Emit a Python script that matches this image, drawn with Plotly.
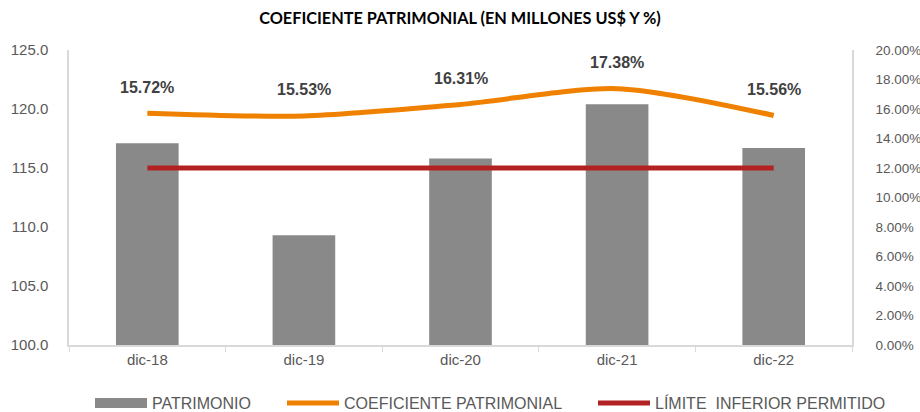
import plotly.graph_objects as go

categories = ["dic-18", "dic-19", "dic-20", "dic-21", "dic-22"]
patrimonio = [117.1, 109.3, 115.8, 120.4, 116.7]
coeficiente = [0.1572, 0.1553, 0.1631, 0.1738, 0.1556]
limite = [0.12, 0.12, 0.12, 0.12, 0.12]
coef_labels = ["15.72%", "15.53%", "16.31%", "17.38%", "15.56%"]

left_ticks = [100, 105, 110, 115, 120, 125]
right_ticks = [0, 0.02, 0.04, 0.06, 0.08, 0.10, 0.12, 0.14, 0.16, 0.18, 0.20]

legend_names = ["PATRIMONIO", "COEFICIENTE PATRIMONIAL", "LÍMITE\u00a0 INFERIOR PERMITIDO"]

font_family = "Liberation Sans, Arial, sans-serif"
tick_color = "#595959"
axis_color = "#d9d9d9"
bar_color = "#898989"

fig = go.Figure()
fig.add_trace(go.Bar(
    x=categories, y=patrimonio, name=legend_names[0],
    marker=dict(color=bar_color, line=dict(width=0)),
    yaxis="y", showlegend=False,
))
# legend-only entry for bars (wide rectangle symbol like the reference)
fig.add_trace(go.Scatter(
    x=[None], y=[None], name=legend_names[0], mode="lines",
    line=dict(color=bar_color, width=10), yaxis="y", legend="legend",
))
fig.add_trace(go.Scatter(
    x=categories, y=coeficiente, name=legend_names[1],
    mode="lines", line=dict(color="#F08100", width=5, shape="spline", smoothing=0.8),
    yaxis="y2", legend="legend2",
))
fig.add_trace(go.Scatter(
    x=categories, y=limite, name=legend_names[2],
    mode="lines", line=dict(color="#B22222", width=5),
    yaxis="y2", legend="legend3",
))

for c, v, t in zip(categories, coeficiente, coef_labels):
    fig.add_annotation(
        x=c, y=v, xref="x", yref="y2", text=f"<b>{t}</b>", showarrow=False,
        yshift=26, font=dict(family=font_family, size=16, color="#404040"),
    )

W, H = 920, 412
ML, MR, MT, MB = 69, 68, 50, 67
PW = W - ML - MR
PH = H - MT - MB


def legend_cfg(text_left_px):
    return dict(
        orientation="h", x=(text_left_px - 62 - ML) / PW, xanchor="left",
        y=-(403 - (H - MB)) / PH, yanchor="middle",
        font=dict(family=font_family, size=16, color=tick_color),
        itemwidth=52, borderwidth=0, bgcolor="rgba(0,0,0,0)",
    )


fig.update_layout(
    width=W, height=H,
    margin=dict(l=ML, r=MR, t=MT, b=MB, autoexpand=False),
    paper_bgcolor="white", plot_bgcolor="white",
    title=dict(
        text="<b>COEFICIENTE PATRIMONIAL (EN MILLONES US$ Y %)</b>",
        x=0.5, xanchor="center", y=1 - 18 / H, yanchor="middle",
        font=dict(family="Lato, Open Sans, sans-serif", size=16.3, color="#000000"),
    ),
    bargap=0.6,
    showlegend=True,
    legend=legend_cfg(152),
    legend2=legend_cfg(344),
    legend3=legend_cfg(655),
    xaxis=dict(
        type="category", showline=True, linecolor=axis_color, linewidth=1.5,
        ticks="outside", tickson="boundaries", ticklen=5, tickcolor=axis_color,
        tickfont=dict(family=font_family, size=15, color=tick_color),
        showgrid=False, zeroline=False, automargin=False,
    ),
    yaxis=dict(
        range=[100, 125], tickvals=left_ticks,
        ticktext=[f"{v:.1f}" for v in left_ticks],
        showline=True, linecolor=axis_color, linewidth=1.5,
        tickfont=dict(family=font_family, size=15, color=tick_color),
        showgrid=False, zeroline=False, ticks="", ticklabelstandoff=16,
        automargin=False,
    ),
    yaxis2=dict(
        range=[0, 0.20], tickvals=right_ticks,
        ticktext=[f"{v*100:.2f}%" for v in right_ticks],
        overlaying="y", side="right",
        showline=True, linecolor=axis_color, linewidth=1.5,
        tickfont=dict(family=font_family, size=13.5, color=tick_color),
        showgrid=False, zeroline=False, ticks="", ticklabelstandoff=19,
        automargin=False,
    ),
)

fig.write_html("out.html", config={"displayModeBar": False},
               post_script="document.body.style.margin='0px';")
